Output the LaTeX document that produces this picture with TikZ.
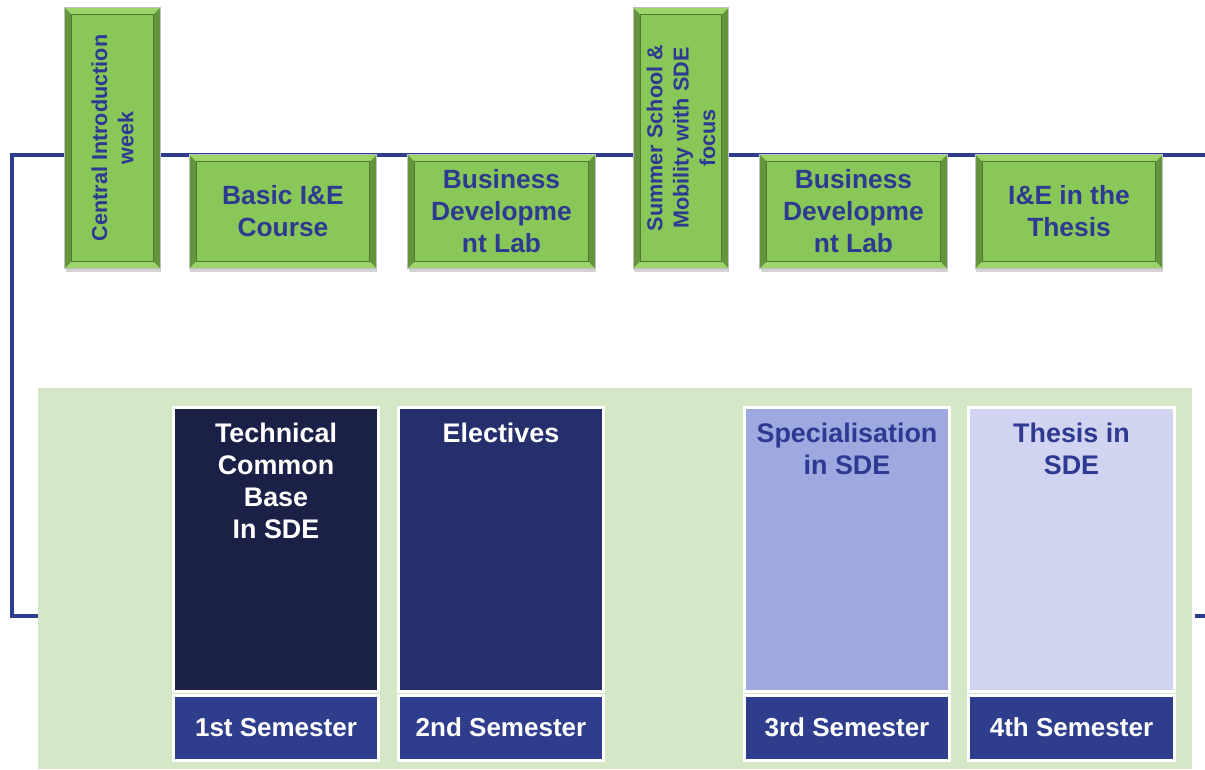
\documentclass[tikz,border=0pt]{standalone}
\usepackage{fontspec}
\setmainfont{Liberation Sans}
\usetikzlibrary{positioning,shadows}

\definecolor{lineblue}{RGB}{46,62,142}
\definecolor{textblue}{RGB}{46,57,145}
\definecolor{ieGreen}{RGB}{137,199,88}
\definecolor{ieLight}{RGB}{156,214,106}
\definecolor{ieDark}{RGB}{100,148,62}
\definecolor{ieLine}{RGB}{80,120,50}
\definecolor{panelgreen}{RGB}{212,231,198}
\definecolor{semblue}{RGB}{46,62,141}
\definecolor{firstsem}{RGB}{27,32,71}
\definecolor{secondsem}{RGB}{36,47,107}
\definecolor{thirdsem}{RGB}{158,170,223}
\definecolor{fourthsem}{RGB}{208,212,240}

\begin{document}
\begin{tikzpicture}[
        x=0.02cm, y=-0.02cm,
        course/.style={rectangle, draw=black!25, line width=0.4pt, fill=ieGreen, text=textblue, align=center,
            minimum width=3.74cm, minimum height=2.26cm, inner sep=0pt,
            font=\fontsize{15}{18.2}\selectfont\bfseries,
            drop shadow={shadow xshift=0.5pt, shadow yshift=-2.5pt, opacity=0.35}},
        tallcourse/.style={course, minimum width=1.9cm, minimum height=5.2cm},
        tall_text/.style={rotate=90, text=textblue, align=center, inner sep=0pt,
            font=\fontsize{12.3}{15}\selectfont\bfseries},
        subject/.style={rectangle, draw=white, line width=0.06cm, minimum width=4.12cm, minimum height=5.7cm, inner sep=0pt},
        semester/.style={rectangle, draw=white, line width=0.06cm, fill=semblue, text=white, minimum width=4.12cm, minimum height=1.3cm,
            inner sep=0pt, font=\fontsize{14.8}{18.2}\selectfont\bfseries},
        subject_title/.style={align=center, inner sep=0pt, font=\fontsize{15.3}{18.2}\selectfont\bfseries},
        timeline/.style={draw=lineblue, line width=0.075cm}
    ]
        \useasboundingbox (0,0) rectangle (1205,769);

        % time line
        \coordinate (line_top_left) at (12,155);
        \coordinate (line_top_right) at (1205,155);
        \coordinate (line_bottom_left) at (38,616);
        \coordinate (line_end_a) at (1195,616);
        \coordinate (line_end_b) at (1205,616);
        \draw[timeline] (line_bottom_left) -| (line_top_left) -- (line_top_right);

        % I&E courses
        \node[tallcourse] (intro) at (112.5,138) {};
        \node[course] (basic) at (283,211.5) {Basic I\&E\\Course};
        \node[course] (bizlab_a) at (501.5,211.5) {Business\\Developme\\nt Lab};
        \node[tallcourse] (summer) at (681,138) {};
        \node[course] (bizlab_b) at (853.5,211.5) {Business\\Developme\\nt Lab};
        \node[course] (thesis_ie) at (1069,211.5) {I\&E in the\\Thesis};

        % bevel edges
        \foreach \n in {intro, basic, bizlab_a, summer, bizlab_b, thesis_ie} {
            \fill[ieLight] (\n.north west) -- (\n.north east) -- ([shift={(-7,7)}]\n.north east) -- ([shift={(7,7)}]\n.north west) -- cycle;
            \fill[ieLight] (\n.south west) -- (\n.south east) -- ([shift={(-7,-7)}]\n.south east) -- ([shift={(7,-7)}]\n.south west) -- cycle;
            \fill[ieDark] (\n.north west) -- ([shift={(7,7)}]\n.north west) -- ([shift={(7,-7)}]\n.south west) -- (\n.south west) -- cycle;
            \fill[ieDark] (\n.north east) -- ([shift={(-7,7)}]\n.north east) -- ([shift={(-7,-7)}]\n.south east) -- (\n.south east) -- cycle;
            \draw[ieLine, line width=0.5pt] ([shift={(7,7)}]\n.north west) rectangle ([shift={(-7,-7)}]\n.south east);
            \draw[black!25, line width=0.4pt] (\n.north west) rectangle (\n.south east);
        }

        % vertical labels
        \node[tall_text] (intro_text) at (intro) {Central Introduction\\week};
        \node[tall_text] (summer_text) at (summer) {Summer School \&\\Mobility with SDE\\focus};

        % programme panel
        \node[rectangle, fill=panelgreen, minimum width=23.08cm, minimum height=7.62cm, inner sep=0pt] (panel) at (615,578.5) {};
        \draw[timeline] (line_end_a) -- (line_end_b);

        % semesters
        \node[subject, fill=firstsem] (tcb) at (276,549.5) {};
        \node[subject, fill=secondsem] (electives) at (501,549.5) {};
        \node[subject, fill=thirdsem] (special) at (847,549.5) {};
        \node[subject, fill=fourthsem] (thesis_sde) at (1071.5,549.5) {};

        \node[subject_title, text=white, below=0.34cm of tcb.north] (tcb_title) {Technical\\Common\\Base\\In SDE};
        \node[subject_title, text=white, below=0.34cm of electives.north] (electives_title) {Electives};
        \node[subject_title, text=textblue, below=0.34cm of special.north] (special_title) {Specialisation\\in SDE};
        \node[subject_title, text=textblue, below=0.34cm of thesis_sde.north] (thesis_title) {Thesis in\\SDE};

        \node[semester] (sem1) at (276,727.5) {1st Semester};
        \node[semester] (sem2) at (501,727.5) {2nd Semester};
        \node[semester] (sem3) at (847,727.5) {3rd Semester};
        \node[semester] (sem4) at (1071.5,727.5) {4th Semester};

    \end{tikzpicture}
\end{document}
